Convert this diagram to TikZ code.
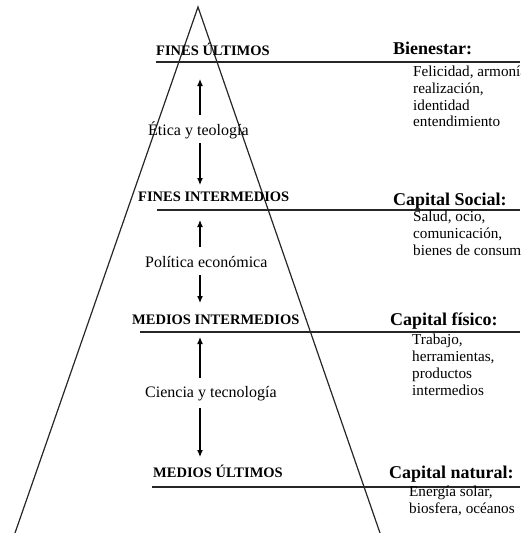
\documentclass[tikz,border=0pt]{standalone}
\usepackage{fontspec}
\setmainfont{Liberation Serif}
\usetikzlibrary{arrows.meta}

\begin{document}
\begin{tikzpicture}[x=1pt,y=-1pt]
\tikzset{
level/.style={font=\fontsize{14.5}{16}\selectfont\bfseries, anchor=base west, inner sep=0pt},
capital/.style={font=\fontsize{18}{20}\selectfont\bfseries, anchor=base west, inner sep=0pt},
detail/.style={font=\fontsize{15.2}{16.7}\selectfont, align=left, anchor=base west, inner sep=0pt},
means/.style={font=\fontsize{16}{18}\selectfont, anchor=base west, inner sep=0pt},
myarrow/.style={->, >={Latex[length=7pt,width=6pt]}, line width=1.1pt},
myline/.style={line width=1.2pt, black!85},
}
\useasboundingbox (0,0) rectangle (520,533);

% piramide
\coordinate (apex) at (198,7);
\coordinate (baseleft) at (15,533);
\coordinate (baseright) at (380,533);
\draw[myline] (baseleft) -- (apex) -- (baseright);

% niveles
\node [level] (finesult) at (156,55) {FINES ÚLTIMOS};
\node [level] (finesint) at (138,201) {FINES INTERMEDIOS};
\node [level] (mediosint) at (132,324) {MEDIOS INTERMEDIOS};
\node [level] (mediosult) at (153,477) {MEDIOS ÚLTIMOS};
\draw[myline] (156,62) -- (520,62);
\draw[myline] (157,210) -- (520,210);
\draw[myline] (140,332) -- (520,332);
\draw[myline] (152,487) -- (520,487);

% capitales (base = ultima linea)
\node [capital] (bienestar) at (393,54) {Bienestar:};
\node [capital] (social) at (393,205) {Capital Social:};
\node [capital] (fisico) at (390,325) {Capital físico:};
\node [capital] (natural) at (389,478) {Capital natural:};
\node [detail] (bienestartxt) at (413,126.7) {Felicidad, armonía\\realización,\\identidad\\entendimiento};
\node [detail] (socialtxt) at (413,255) {Salud, ocio,\\comunicación,\\bienes de consumo};
\node [detail] (fisicotxt) at (412,395) {Trabajo,\\herramientas,\\productos\\intermedios};
\node [detail] (naturaltxt) at (409,513) {Energía solar,\\biosfera, océanos};

% medios
\node [means] (etica) at (148,135) {Ética y teología};
\node [means] (politica) at (145,267) {Política económica};
\node [means] (ciencia) at (145,397) {Ciencia y tecnología};

\coordinate (e1) at (200,115); \coordinate (e2) at (200,79);
\coordinate (e3) at (200,143); \coordinate (e4) at (200,185);
\coordinate (p1) at (200,247); \coordinate (p2) at (200,220);
\coordinate (p3) at (200,275); \coordinate (p4) at (200,303);
\coordinate (c1) at (200,378); \coordinate (c2) at (200,337);
\coordinate (c3) at (200,408); \coordinate (c4) at (200,457);
\draw[myarrow] (e1) -- (e2);
\draw[myarrow] (e3) -- (e4);
\draw[myarrow] (p1) -- (p2);
\draw[myarrow] (p3) -- (p4);
\draw[myarrow] (c1) -- (c2);
\draw[myarrow] (c3) -- (c4);
\end{tikzpicture}
\end{document}
